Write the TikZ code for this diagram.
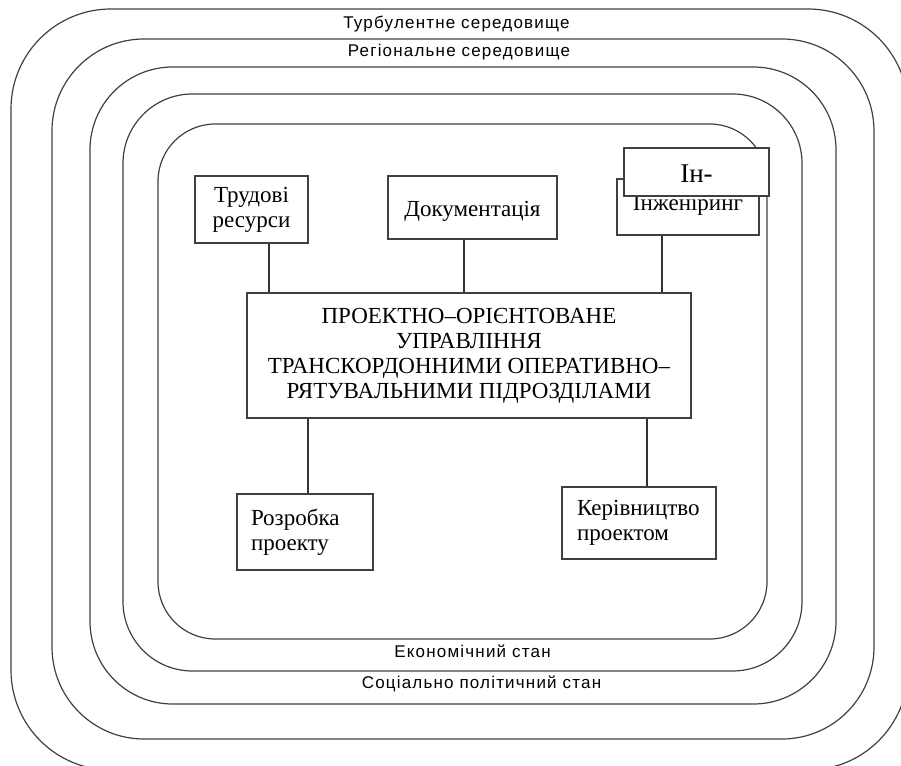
\documentclass[tikz,border=0pt]{standalone}
\usepackage{fontspec}
\setmainfont{Liberation Serif}
\newfontfamily\ringfont{Liberation Sans}[LetterSpace=7]
\begin{document}
\begin{tikzpicture}[x=0.75pt,y=-0.75pt,
  ring/.style={draw=black!75, line width=0.9pt},
  box/.style={draw=black!75, line width=0.9pt, fill=white, inner sep=0pt,
    font=\fontsize{17.25}{18.75}\selectfont},
  ringlabel/.style={font=\ringfont\fontsize{12.75}{14}\selectfont, inner sep=0pt, anchor=base},
  link/.style={draw=black!80, line width=0.9pt}]
\useasboundingbox (0,0) rectangle (901,766);
\clip (0,0) rectangle (901,766);
% environment rings
\draw[ring, rounded corners=75pt] (11,9) rectangle (908,770);
\draw[ring, rounded corners=69pt] (52,39) rectangle (874,739);
\draw[ring, rounded corners=62pt] (90,67) rectangle (836,704);
\draw[ring, rounded corners=52pt] (123,94) rectangle (802,671);
\draw[ring, rounded corners=43pt] (158,124) rectangle (767,639);
% ring labels
\node[ringlabel] (l1) at (456.5,29) {Турбулентне середовище};
\node[ringlabel] (l2) at (459,57) {Регіональне середовище};
\node[ringlabel] (l3) at (472.5,658) {Економічний стан};
\node[ringlabel] (l4) at (481.5,689) {Соціально політичний стан};
% boxes
\node[box, minimum width=84.75pt, minimum height=50.25pt, align=center] (tr) at (251.5,209.5) {Трудові\\ресурси};
\node[box, minimum width=126.75pt, minimum height=47.25pt] (doc) at (472.5,207.5) {\raisebox{-7.1pt}[0pt][0pt]{Документація}};
\node[box, minimum width=106.5pt, minimum height=42pt] (eng) at (688,207) {\raisebox{-2.5pt}[0pt][0pt]{Інженіринг}};
\node[box, minimum width=333pt, minimum height=93.75pt, align=center] (main) at (469,355.5)
  {ПРОЕКТНО–ОРІЄНТОВАНЕ\\УПРАВЛІННЯ\\ТРАНСКОРДОННИМИ ОПЕРАТИВНО–\\РЯТУВАЛЬНИМИ ПІДРОЗДІЛАМИ};
\node[box, minimum width=102pt, minimum height=57pt, text width=81pt, align=left] (rozr) at (305,532) {Розробка\\проекту};
\node[box, minimum width=115.5pt, minimum height=54pt, text width=93pt, align=left] (ker) at (639,523) {Керівництво\\проектом};
% connectors
\coordinate (x1) at (269,0);
\coordinate (x2) at (464,0);
\coordinate (x3) at (662,0);
\coordinate (x4) at (308,0);
\coordinate (x5) at (647,0);
\draw[link] (tr.south -| x1) -- (main.north -| x1);
\draw[link] (doc.south -| x2) -- (main.north -| x2);
\draw[link] (eng.south -| x3) -- (main.north -| x3);
\draw[link] (main.south -| x4) -- (rozr.north -| x4);
\draw[link] (main.south -| x5) -- (ker.north -| x5);
% overlapping box
\node[box, minimum width=108.75pt, minimum height=36pt, font=\fontsize{20.25}{24}\selectfont] (inp) at (696.5,172) {\raisebox{-8.25pt}[0pt][0pt]{Ін-}};
\end{tikzpicture}
\end{document}
